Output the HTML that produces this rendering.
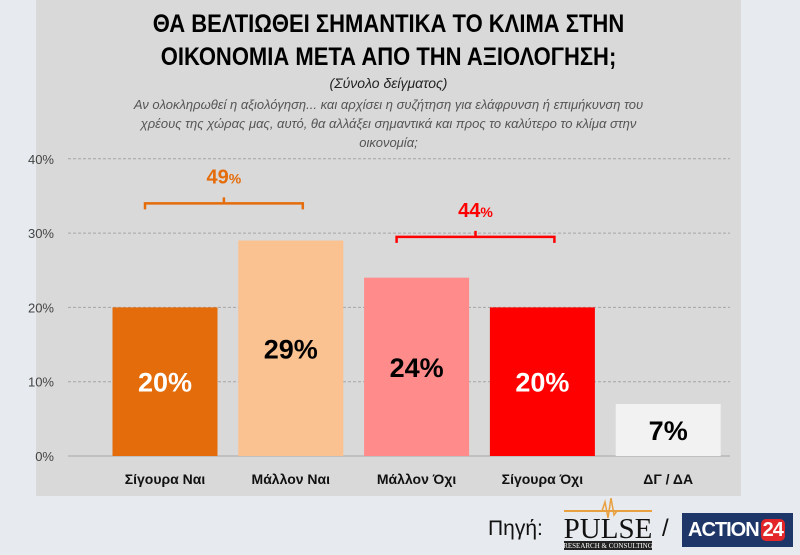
<!DOCTYPE html>
<html><head><meta charset="utf-8"><style>
body{margin:0;width:800px;height:555px;background:#e7eaee;font-family:"Liberation Sans","DejaVu Sans",sans-serif;position:relative;overflow:hidden}
#panel{position:absolute;left:36px;top:0;width:705px;height:496px;background:#d9d9d9}
.t{position:absolute;left:36px;width:705px;text-align:center;color:#000}
</style></head><body>
<div id="panel"></div>
<div class="t" style="top:8px;font-size:25px;font-weight:bold;line-height:33px;font-family:'Liberation Sans Narrow','Liberation Sans',sans-serif;transform:scaleX(0.88)">ΘΑ ΒΕΛΤΙΩΘΕΙ ΣΗΜΑΝΤΙΚΑ ΤΟ ΚΛΙΜΑ ΣΤΗΝ<br>ΟΙΚΟΝΟΜΙΑ ΜΕΤΑ ΑΠΟ ΤΗΝ ΑΞΙΟΛΟΓΗΣΗ;</div>
<div class="t" style="top:75px;font-size:14px;font-style:italic;color:#222">(Σύνολο δείγματος)</div>
<div class="t" style="top:95px;font-size:13px;font-style:italic;color:#555;line-height:19px;padding:0 90px;box-sizing:border-box">Αν ολοκληρωθεί η αξιολόγηση... και αρχίσει η συζήτηση για ελάφρυνση ή επιμήκυνση του χρέους της χώρας μας, αυτό, θα αλλάξει σημαντικά και προς το καλύτερο το κλίμα στην οικονομία;</div>
<svg id="chart" width="800" height="555" style="position:absolute;left:0;top:0"></svg>
<div style="position:absolute;left:488px;top:517px;font-size:21px;color:#111">Πηγή:</div>
<div style="position:absolute;left:562px;top:498px;width:92px;height:52px">
<svg width="92" height="52"><line x1="2" y1="13" x2="90" y2="13" stroke="#e8a040" stroke-width="2"/><polyline points="35,13 40,13 43,4 46,20 49,0 52,17 55,13" fill="none" stroke="#e8a040" stroke-width="1.5"/>
<text x="46" y="40" text-anchor="middle" font-family="Liberation Serif" font-size="29" fill="#111">PULSE</text>
<rect x="2" y="43" width="88" height="9" fill="#222"/><text x="46" y="50" text-anchor="middle" font-family="Liberation Serif" font-size="7" fill="#fff">RESEARCH &amp; CONSULTING</text></svg></div>
<div style="position:absolute;left:662px;top:515px;font-size:24px;color:#111">/</div>
<div style="position:absolute;left:682px;top:513px;width:111px;height:34px;background:#1e3768;color:#fff;font-weight:bold;font-size:20px;line-height:34px;padding-left:6px;box-sizing:border-box;letter-spacing:-1px">ACTION<span style="background:#e3262a;border-radius:5px;padding:0 2px;margin-left:2px">24</span></div>
<script>
const categories=["Σίγουρα Ναι","Μάλλον Ναι","Μάλλον Όχι","Σίγουρα Όχι","ΔΓ / ΔΑ"];
const values=[20,29,24,20,7];
const colors=["#e46c0a","#fac191","#ff8b8b","#ff0000","#f2f2f2"];
const labelColors=["#fff","#000","#000","#fff","#000"];
const ticks=[0,10,20,30,40];
const groups=[{from:0,to:1,label:"49",color:"#e46c0a",level:34},{from:2,to:3,label:"44",color:"#ff0000",level:29.5}];
const svg=document.getElementById('chart');const NS="http://www.w3.org/2000/svg";
const y=v=>456-v*7.43;const xc=i=>165+i*125.8;const bw=105;
function mk(t,a,p){const e=document.createElementNS(NS,t);for(const k in a)e.setAttribute(k,a[k]);(p||svg).appendChild(e);return e;}
ticks.forEach(t=>{
const l=mk('line',{x1:68,x2:730,y1:y(t),y2:y(t),stroke:"#a6a6a6","stroke-dasharray":t?"3,2":"",});

const tx=mk('text',{x:54,y:y(t)+5,"text-anchor":"end","font-size":13,fill:"#444"});tx.textContent=t+"%";
});
values.forEach((v,i)=>{
const r=mk('rect',{x:xc(i)-bw/2,y:y(v),width:bw,height:y(0)-y(v),fill:colors[i]});

const t=mk('text',{x:xc(i),y:(y(v)+y(0))/2+10,"text-anchor":"middle","font-size":27,"font-weight":"bold",fill:labelColors[i]});t.textContent=v+"%";

const c=mk('text',{x:xc(i),y:484,"text-anchor":"middle","font-size":14,"font-weight":"bold",fill:"#111"});c.textContent=categories[i];
});
groups.forEach((g,k)=>{
const x1=xc(g.from)-20,x2=xc(g.to)+12,yy=y(g.level),m=(x1+x2)/2;
const p=mk('path',{d:`M${x1},${yy+6}V${yy}H${x2}V${yy+6}M${m},${yy}V${yy-6}`,fill:"none",stroke:g.color,"stroke-width":2.5});

const t=mk('text',{x:m,y:yy-20,"text-anchor":"middle","font-size":20,"font-weight":"bold",fill:g.color});
t.innerHTML=g.label+'<tspan font-size="14">%</tspan>';
});
</script>
</body></html>
